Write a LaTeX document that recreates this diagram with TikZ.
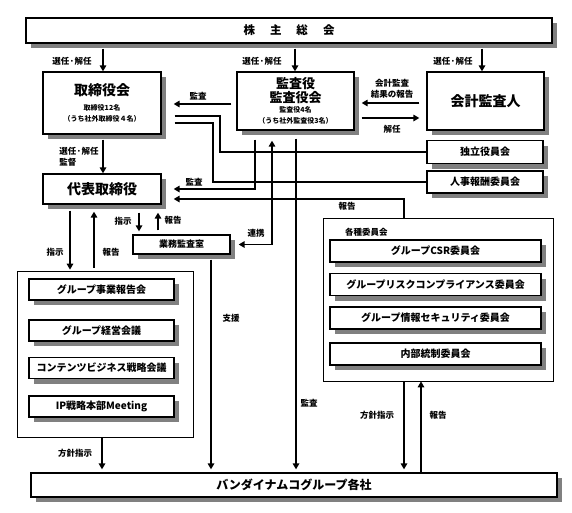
\documentclass[tikz,border=0pt]{standalone}
\usepackage{fontspec}
\setmainfont{Noto Sans CJK JP}
\usetikzlibrary{arrows.meta,shadows,calc}
\tikzset{
  sbox/.style={draw, line width=1.3pt, fill=white, inner sep=0pt, align=center,
     drop shadow={shadow xshift=5pt, shadow yshift=-5pt, fill=black!50, opacity=1}},
  cont/.style={draw, line width=0.7pt, fill=white, inner sep=0pt},
  con/.style={line width=1.7pt},
  arr/.style={con, -{Triangle[length=6pt,width=6.5pt]}},
  lab/.style={font=\fontsize{8.5}{10.5}\bfseries\selectfont, inner sep=0pt, align=center},
  big/.style={font=\fontsize{14}{16}\bfseries\selectfont},
  mid/.style={font=\fontsize{10}{12}\bfseries\selectfont},
}
\begin{document}
\begin{tikzpicture}[x=1pt,y=-1pt]
\useasboundingbox[fill=white] (0,0) rectangle (572,512);
% containers
\node[cont, minimum width=176pt, minimum height=166pt] (lg) at (105,354) {};
\node[cont, minimum width=230pt, minimum height=163pt] (rg) at (438,299.5) {};
\node[lab, anchor=west] (rgl) at (345,232) {各種委員会};
% boxes
\node[sbox, minimum width=526pt, minimum height=25pt, font=\fontsize{11.5}{13}\bfseries\selectfont] (sh) at (289,30.5) {株\hspace{15pt}主\hspace{15pt}総\hspace{15pt}会};
\node[sbox, minimum width=118pt, minimum height=62pt] (tori) at (102,103)
  {{\fontsize{14}{16}\bfseries\selectfont 取締役会}\\[3pt]{\fontsize{7}{9}\bfseries\selectfont 取締役12名}\\[-1pt]{\fontsize{7}{9}\bfseries\selectfont （うち社外取締役４名）}};
\node[sbox, minimum width=117pt, minimum height=58pt] (kansa) at (295.5,101)
  {{\fontsize{13}{15}\bfseries\selectfont 監査役}\\{\fontsize{13}{15}\bfseries\selectfont 監査役会}\\[-2pt]{\fontsize{7}{9}\bfseries\selectfont 監査役4名}\\[-1pt]{\fontsize{7}{9}\bfseries\selectfont （うち社外監査役3名）}};
\node[sbox, big, minimum width=117pt, minimum height=58pt] (kaikei) at (485.5,101) {会計監査人};
\node[sbox, mid, minimum width=116pt, minimum height=23pt] (dokuritsu) at (485,152) {独立役員会};
\node[sbox, mid, minimum width=116pt, minimum height=22pt] (jinji) at (485,182) {人事報酬委員会};
\node[sbox, big, minimum width=118pt, minimum height=30pt] (daihyo) at (102,189) {代表取締役};
\node[sbox, font=\fontsize{9}{11}\bfseries\selectfont, minimum width=97pt, minimum height=19pt] (gyomu) at (181.5,244.5) {業務監査室};
\node[sbox, mid, minimum width=145pt, minimum height=21pt] (l1) at (101.5,289.5) {グループ事業報告会};
\node[sbox, mid, minimum width=145pt, minimum height=21pt] (l2) at (101.5,330.5) {グループ経営会議};
\node[sbox, mid, minimum width=145pt, minimum height=21pt] (l3) at (101.5,368) {コンテンツビジネス戦略会議};
\node[sbox, mid, minimum width=145pt, minimum height=21pt] (l4) at (101.5,406.5) {IP戦略本部Meeting};
\node[sbox, mid, minimum width=211pt, minimum height=22pt] (r1) at (435.5,251) {グループCSR委員会};
\node[sbox, mid, minimum width=211pt, minimum height=22pt] (r2) at (435.5,284.5) {グループリスクコンプライアンス委員会};
\node[sbox, mid, minimum width=211pt, minimum height=22pt] (r3) at (435.5,318) {グループ情報セキュリティ委員会};
\node[sbox, mid, minimum width=211pt, minimum height=22pt] (r4) at (435.5,354) {内部統制委員会};
\node[sbox, font=\fontsize{12}{14}\bfseries\selectfont, minimum width=526pt, minimum height=24pt] (bt) at (294,485) {バンダイナムコグループ各社};
% connectors from shareholders
\draw[arr] ($(sh.south -| 103,0)+(0,5)$) -- (tori.north -| 103,0);
\draw[arr] ($(sh.south -| 295,0)+(0,5)$) -- (kansa.north -| 295,0);
\draw[arr] ($(sh.south -| 482,0)+(0,5)$) -- (kaikei.north -| 482,0);
\node[lab] (s1) at (72,61) {選任·解任};
\node[lab] (s2) at (262,61) {選任·解任};
\node[lab] (s3) at (453,61) {選任·解任};
% kansa <-> tori, kaikei
\draw[arr] ($(kansa.west)+(-5,3)$) -- ($(tori.east)+(12,1)$);
\node[lab] (k1) at (198,96) {監査};
\draw[arr] ($(kaikei.west)+(-7,2)$) -- ($(kansa.east)+(7,2)$);
\node[lab] (k2) at (392,89) {会計監査\\結果の報告};
\draw[arr] ($(kansa.east)+(7,17)$) -- ($(kaikei.west)+(-7,17)$);
\node[lab] (k3) at (392,129) {解任};
% tori -> committees
\draw[con] ($(tori.east)+(13,13)$) -| (220,152) -- (dokuritsu.west);
\draw[con] ($(tori.east)+(13,20)$) -| (213,182) -- (jinji.west);
% tori -> daihyo
\draw[arr] ($(tori.south -| 103,0)+(0,5)$) -- (daihyo.north -| 103,0);
\node[lab, align=left] (s4) at (79,157) {選任·解任\\監督};
% kansa -> daihyo
\draw[arr] ($(kansa.south -| 255,0)+(0,9)$) |- ($(daihyo.east)+(12,0)$);
\node[lab] (k4) at (194,182) {監査};
% renkei
\draw[con, {Triangle[length=6pt,width=6.5pt]}-{Triangle[length=6pt,width=6.5pt]}] ($(gyomu.east)+(8,0)$) -| ($(kansa.south -| 272,0)+(0,10)$);
\node[lab] (k5) at (256,233) {連携};
% kansa -> group
\draw[arr] ($(kansa.south -| 296,0)+(0,8)$) -- ($(bt.north -| 296,0)+(0,-3)$);
\node[lab] (k6) at (309,403) {監査};
% committees report
\draw[arr] (rg.north -| 404,0) |- ($(daihyo.east)+(12,10)$);
\node[lab] (k7) at (347,206) {報告};
% daihyo <-> left group
\draw[arr] ($(daihyo.south -| 70,0)+(0,6)$) -- ($(lg.north -| 70,0)+(0,-1)$);
\draw[arr] ($(lg.north -| 94,0)+(0,-3)$) -- ($(daihyo.south -| 94,0)+(0,7)$);
\node[lab] (d1) at (55,252) {指示};
\node[lab] (d2) at (111,252) {報告};
% daihyo <-> gyomu
\draw[arr] ($(daihyo.south -| 139,0)+(0,8)$) -- ($(gyomu.north -| 139,0)+(0,-3)$);
\draw[arr] ($(gyomu.north -| 158,0)+(0,-4)$) -- ($(daihyo.south -| 158,0)+(0,8)$);
\node[lab] (d3) at (123,221) {指示};
\node[lab] (d4) at (173,220) {報告};
% gyomu -> group
\draw[arr] ($(gyomu.south -| 211,0)+(0,5)$) -- ($(bt.north -| 211,0)+(0,-3)$);
\node[lab] (g1) at (231,318) {支援};
% left group -> group
\draw[arr] (lg.south -| 102,0) -- ($(bt.north -| 102,0)+(0,-3)$);
\node[lab] (g2) at (75,453) {方針指示};
% right group <-> group
\draw[arr] (rg.south -| 404,0) -- ($(bt.north -| 404,0)+(0,-3)$);
\draw[arr] (bt.north -| 421,0) -- (rg.south -| 421,0);
\node[lab] (g3) at (377,415) {方針指示};
\node[lab] (g4) at (438,415) {報告};
\end{tikzpicture}
\end{document}
